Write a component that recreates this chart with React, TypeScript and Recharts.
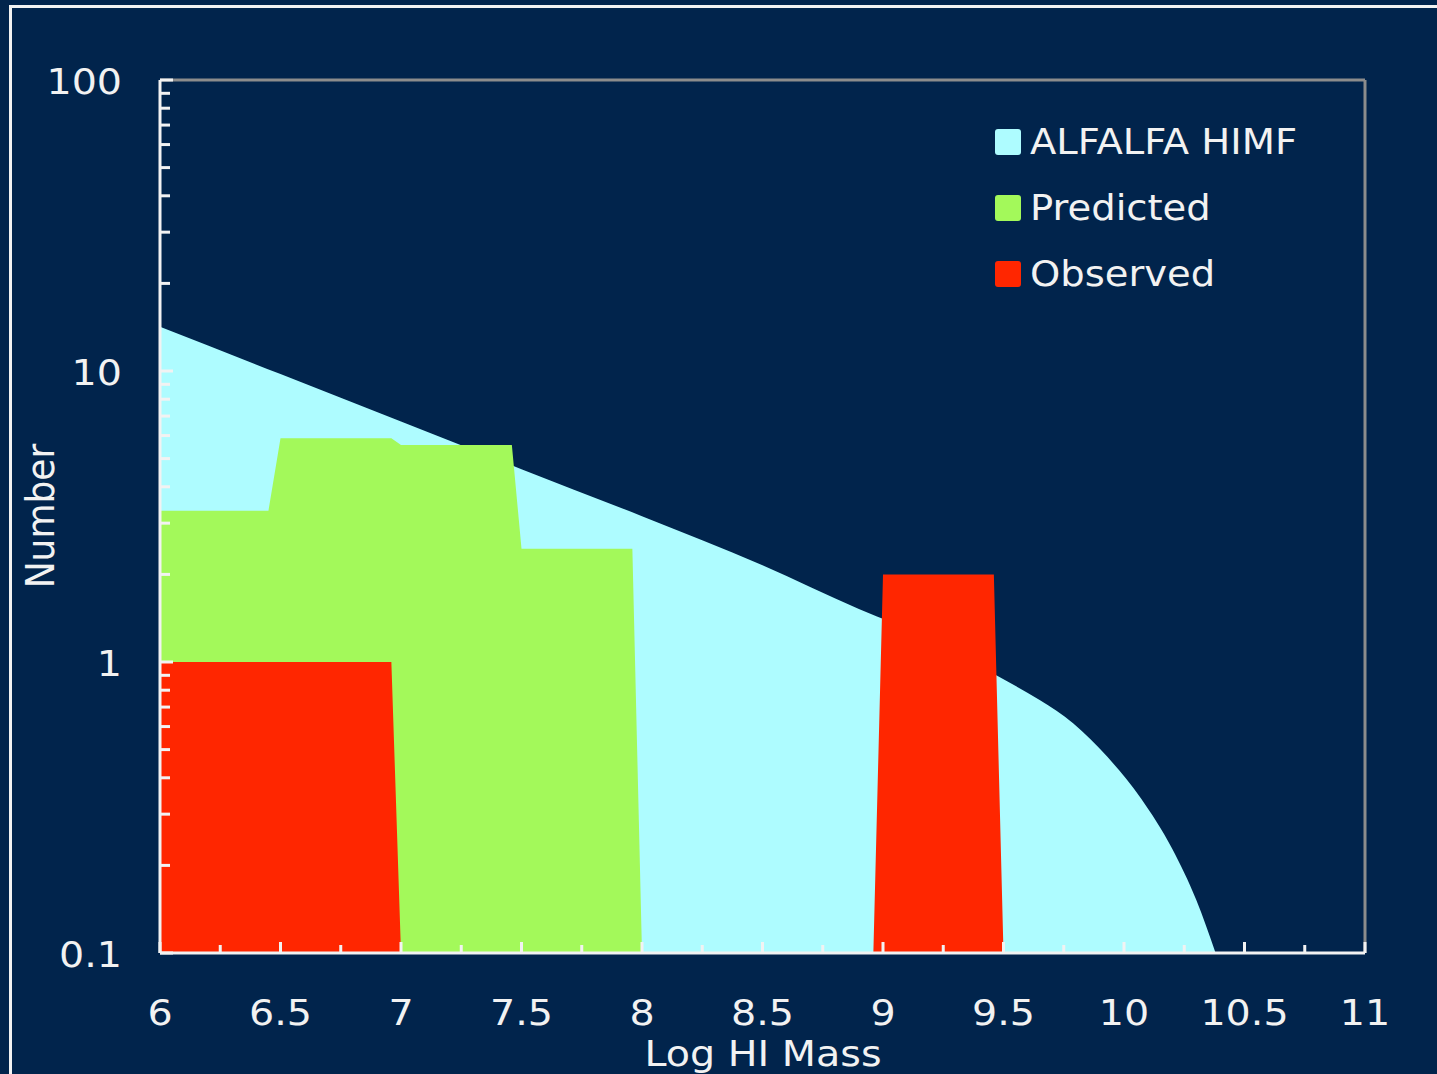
import {
  ComposedChart, Area, XAxis, YAxis, ReferenceLine,
} from 'recharts';

// ALFALFA HI mass function
const himfX = [6, 6.5, 7, 7.5, 8, 8.5, 8.9, 9.2, 9.47, 9.65, 9.79, 9.93, 10.07, 10.2, 10.3, 10.38];
const himfY = [14.2, 9.76, 6.7, 4.6, 3.17, 2.15, 1.52, 1.2, 0.9, 0.74, 0.615, 0.473, 0.34, 0.228, 0.152, 0.1];

// predicted counts (bins of 0.5 dex)
const predX = [6, 6.45, 6.5, 6.96, 7.0, 7.46, 7.5, 7.96, 8.0];
const predY = [3.31, 3.31, 5.87, 5.87, 5.57, 5.57, 2.45, 2.45, 0.1];

// observed counts
const obsX = [6, 6.96, 7.0, 8.96, 9.0, 9.46, 9.5];
const obsY = [1, 1, 0.1, 0.1, 2, 2, 0.1];

const xTicks = [6, 6.25, 6.5, 6.75, 7, 7.25, 7.5, 7.75, 8, 8.25, 8.5, 8.75, 9, 9.25, 9.5, 9.75, 10, 10.25, 10.5, 10.75, 11];
const yTicks = [
  0.1, 0.2, 0.3, 0.4, 0.5, 0.6, 0.7, 0.8, 0.9,
  1, 2, 3, 4, 5, 6, 7, 8, 9,
  10, 20, 30, 40, 50, 60, 70, 80, 90, 100,
];
const yLabels = [0.1, 1, 10, 100];

const series = [
  { name: 'ALFALFA HIMF', color: '#aefcff' },
  { name: 'Predicted', color: '#a3f95a' },
  { name: 'Observed', color: '#ff2600' },
];

const BG = '#01244c';
const FG = '#f2f2f2';
const FONT = '"DejaVu Sans", Verdana, sans-serif';

const toPts = (xs: number[], ys: number[]) => xs.map((x, i) => ({ x, y: ys[i] }));

const YTick = (props: any) => {
  const { x, y, payload } = props;
  const v = payload.value;
  const major = yLabels.some(l => Math.abs(l - v) < 1e-9);
  return (
    <g>
      <line x1={x} x2={x + (major ? 13 : 10)} y1={y} y2={y} stroke={FG} strokeWidth={3} />
      {major && (
        <text
          transform={`translate(${x - 38},${y + 2}) scale(1.1,1)`}
          textAnchor="end"
          dominantBaseline="central"
          fill={FG}
          fontSize={36}
          fontFamily={FONT}
        >
          {String(v)}
        </text>
      )}
    </g>
  );
};

const XTick = (props: any) => {
  const { x, y, payload } = props;
  const v = payload.value;
  const major = Math.abs(v * 2 - Math.round(v * 2)) < 1e-9;
  return (
    <g>
      <line x1={x} x2={x} y1={y} y2={y - (major ? 11 : 8)} stroke={FG} strokeWidth={3} />
      {major && (
        <text
          transform={`translate(${x},${y + 72}) scale(1.1,1)`}
          textAnchor="middle"
          fill={FG}
          fontSize={36}
          fontFamily={FONT}
        >
          {String(v)}
        </text>
      )}
    </g>
  );
};

export default function App() {
  return (
    <div style={{ position: 'relative', width: 1437, height: 1074, background: BG, overflow: 'hidden' }}>
      <style>{`body{margin:0;background:${BG};}`}</style>
      <div style={{ position: 'absolute', left: 9, top: 5, width: 1600, height: 1300, border: `3px solid ${FG}` }} />
      <ComposedChart
        width={1437}
        height={1074}
        margin={{ top: 80, right: 72, bottom: 61, left: 60 }}
        style={{ position: 'absolute', left: 0, top: 0 }}
      >
        <XAxis
          dataKey="x"
          type="number"
          domain={[6, 11]}
          ticks={xTicks}
          interval={0}
          allowDataOverflow
          height={60}
          tickSize={0}
          tickMargin={0}
          tickLine={false}
          tick={<XTick />}
          axisLine={{ stroke: FG, strokeWidth: 3 }}
        />
        <YAxis
          type="number"
          scale="log"
          domain={[0.1, 100]}
          ticks={yTicks}
          interval={0}
          allowDataOverflow
          width={100}
          tickSize={0}
          tickMargin={0}
          tickLine={false}
          tick={<YTick />}
          axisLine={{ stroke: FG, strokeWidth: 3 }}
        />
        <ReferenceLine y={100} stroke="#8c8c8c" strokeWidth={3} />
        <ReferenceLine x={11} stroke="#8c8c8c" strokeWidth={3} />
        <Area
          data={toPts(himfX, himfY)}
          dataKey="y"
          name="ALFALFA HIMF"
          type="monotone"
          baseValue={0.1}
          fill={series[0].color}
          fillOpacity={1}
          stroke="none"
          isAnimationActive={false}
        />
        <Area
          data={toPts(predX, predY)}
          dataKey="y"
          name="Predicted"
          type="linear"
          baseValue={0.1}
          fill={series[1].color}
          fillOpacity={1}
          stroke="none"
          isAnimationActive={false}
        />
        <Area
          data={toPts(obsX, obsY)}
          dataKey="y"
          name="Observed"
          type="linear"
          baseValue={0.1}
          fill={series[2].color}
          fillOpacity={1}
          stroke="none"
          isAnimationActive={false}
        />
      </ComposedChart>
      <div style={{ position: 'absolute', left: 995, top: 109, fontFamily: FONT, color: FG }}>
        {series.map(s => (
          <div key={s.name} style={{ display: 'flex', alignItems: 'center', height: 66 }}>
            <div style={{ width: 26, height: 26, background: s.color, borderRadius: 3, marginRight: 9 }} />
            <span style={{ fontSize: 35, lineHeight: 1, display: 'inline-block', transform: 'scaleX(1.1)', transformOrigin: 'left center', whiteSpace: 'nowrap' }}>
              {s.name}
            </span>
          </div>
        ))}
      </div>
      <div
        style={{
          position: 'absolute', left: 41, top: 516, fontFamily: FONT, fontSize: 36, color: FG,
          transform: 'translate(-50%,-50%) rotate(-90deg) scaleY(1.1)', whiteSpace: 'nowrap', lineHeight: 1,
        }}
      >
        Number
      </div>
      <div
        style={{
          position: 'absolute', left: 763, top: 1036, fontFamily: FONT, fontSize: 36, color: FG,
          transform: 'translateX(-50%) scaleX(1.1)', whiteSpace: 'nowrap', lineHeight: 1,
        }}
      >
        Log HI Mass
      </div>
    </div>
  );
}
